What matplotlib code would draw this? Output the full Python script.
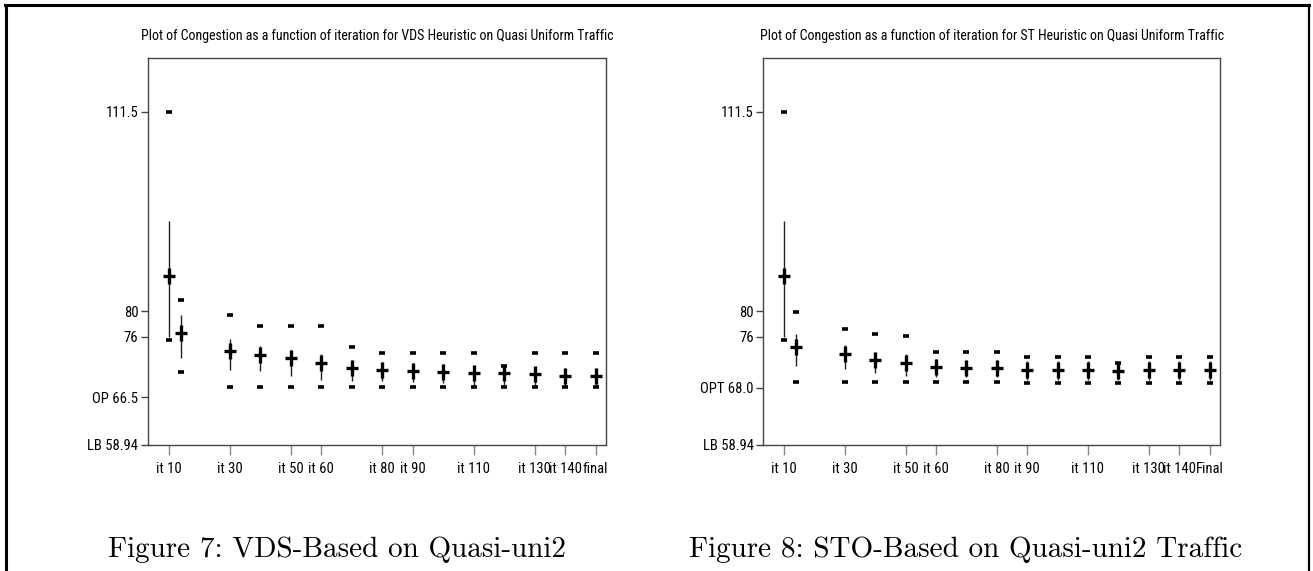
import matplotlib
matplotlib.use("Agg")
import matplotlib.pyplot as plt
from matplotlib.lines import Line2D
from matplotlib import font_manager

# Data
iters = [10, 14, 30, 40, 50, 60, 70, 80, 90, 100, 110, 120, 130, 140, 150]
xtick_pos = [10, 30, 50, 60, 80, 90, 110, 130, 140, 150]

vds_mean = [85.66, 76.67, 73.82, 73.19, 72.62, 71.88, 71.14, 70.78, 70.62, 70.46, 70.25, 70.25, 70.10, 69.88, 69.88]
vds_lo = [76.03, 72.62, 70.77, 70.62, 69.88, 69.20, 69.04, 68.99, 68.88, 68.77, 68.25, 68.30, 68.30, 68.20, 68.20]
vds_hi = [94.34, 79.46, 75.62, 74.61, 73.93, 73.35, 72.35, 72.09, 71.93, 71.77, 71.25, 71.40, 71.30, 71.10, 71.10]
vds_min = [75.46, 70.41, 68.05, 68.05, 68.05, 68.05, 68.05, 68.05, 68.05, 68.05, 68.05, 68.05, 68.05, 68.05, 68.05]
vds_max = [111.5, 81.83, 79.41, 77.72, 77.72, 77.72, 74.36, 73.41, 73.41, 73.41, 73.41, 71.40, 73.41, 73.41, 73.41]
vds_xlabels = ['it 10', 'it 30', 'it 50', 'it 60', 'it 80', 'it 90', 'it 110', 'it 130', 'it 140', 'final']
vds_yticks = [58.94, 66.5, 76, 80, 111.5]
vds_ylabels = ['LB 58.94', 'OP 66.5', '76', '80', '111.5']

st_mean = [85.66, 74.45, 73.35, 72.41, 71.88, 71.25, 71.09, 71.09, 70.78, 70.78, 70.78, 70.62, 70.78, 70.78, 70.78]
st_lo = [76.03, 71.46, 70.89, 70.25, 69.88, 69.72, 69.60, 69.60, 69.20, 69.20, 69.20, 69.20, 69.20, 69.20, 69.20]
st_hi = [94.34, 76.41, 74.72, 73.67, 73.25, 72.51, 72.40, 72.40, 72.20, 72.20, 72.20, 72.00, 72.20, 72.20, 72.20]
st_min = [75.46, 68.83, 68.83, 68.83, 68.83, 68.83, 68.83, 68.83, 68.67, 68.67, 68.67, 68.67, 68.67, 68.67, 68.67]
st_max = [111.5, 79.88, 77.20, 76.46, 76.14, 73.57, 73.57, 73.57, 72.78, 72.78, 72.78, 71.90, 72.78, 72.78, 72.78]
st_xlabels = ['it 10', 'it 30', 'it 50', 'it 60', 'it 80', 'it 90', 'it 110', 'it 130', 'it 140', 'Final']
st_yticks = [58.94, 68.0, 76, 80, 111.5]
st_ylabels = ['LB 58.94', 'OPT 68.0', '76', '80', '111.5']

# look for a narrow sans font (the original looks like Arial Narrow)
narrow_file = None
for pref in ['Liberation Sans Narrow', 'Roboto Condensed', 'Open Sans Condensed']:
    for f in font_manager.fontManager.ttflist:
        if f.name == pref and f.weight in (400, 'normal', 'regular') and f.style == 'normal':
            narrow_file = f.fname
            break
    if narrow_file:
        break
if narrow_file is None:
    for f in font_manager.fontManager.ttflist:
        if ('Condensed' in f.fname or 'Narrow' in f.fname) and 'Bold' not in f.fname \
                and 'Oblique' not in f.fname and 'Italic' not in f.fname and 'Light' not in f.fname:
            narrow_file = f.fname
            break

if narrow_file:
    def nfont(size):
        return font_manager.FontProperties(fname=narrow_file, size=size)
    title_size, tick_size = 10, 10.5
else:
    def nfont(size):
        return font_manager.FontProperties(family='Liberation Sans', size=size)
    title_size, tick_size = 8.5, 8.8

fig = plt.figure(figsize=(13.13, 5.71), dpi=100)


def panel(rect, title, mean, lo, hi, vmin, vmax, xlabels, yticks, ylabels):
    ax = fig.add_axes(rect)
    # spread line
    ax.vlines(iters, lo, hi, color='#222222', lw=1.0)
    # min / max dashes
    ax.plot(iters, vmin, ls='none', marker='_', ms=4.4, mew=2.6, color='black')
    ax.plot(iters, vmax, ls='none', marker='_', ms=4.4, mew=2.6, color='black')
    # mean cross
    ax.plot(iters, mean, ls='none', marker='_', ms=8, mew=2.4, color='black')
    ax.plot(iters, mean, ls='none', marker='|', ms=11.5, mew=2.4, color='black')

    ax.set_xlim(3.2, 153.4)
    ax.set_ylim(58.94, 120.0)
    ax.set_xticks(xtick_pos)
    ax.set_xticklabels(xlabels, fontproperties=nfont(tick_size))
    ax.set_yticks(yticks)
    ax.set_yticklabels(ylabels, fontproperties=nfont(tick_size))
    ax.tick_params(axis='x', length=7, width=1, color='#888888', pad=5)
    ax.tick_params(axis='y', length=5, width=1, color='#444444', pad=2)
    for s in ax.spines.values():
        s.set_color('#444444')
        s.set_linewidth(1.0)
    ax.set_title(title, fontproperties=nfont(title_size), pad=13)
    return ax


panel([0.1127, 0.2207, 0.3488, 0.6778],
      'Plot of Congestion as a function of iteration for VDS Heuristic on Quasi Uniform Traffic',
      vds_mean, vds_lo, vds_hi, vds_min, vds_max, vds_xlabels, vds_yticks, vds_ylabels)
panel([0.5813, 0.2207, 0.3478, 0.6778],
      'Plot of Congestion as a function of iteration for ST Heuristic on Quasi Uniform Traffic',
      st_mean, st_lo, st_hi, st_min, st_max, st_xlabels, st_yticks, st_ylabels)

# captions
W, H = 1313, 571
fig.text(337 / W, 1 - 557 / H, 'Figure 7: VDS-Based on Quasi-uni2',
         family='cmr10', fontsize=21, ha='center', va='baseline')
fig.text(966 / W, 1 - 557 / H, 'Figure 8: STO-Based on Quasi-uni2 Traffic',
         family='cmr10', fontsize=21, ha='center', va='baseline')

# outer page frame (top, left, right)
fig.add_artist(Line2D([5 / W, 1309 / W], [1 - 4.5 / H, 1 - 4.5 / H], color='black', lw=2.2))
fig.add_artist(Line2D([5.5 / W, 5.5 / W], [0, 1 - 4.5 / H], color='black', lw=2.2))
fig.add_artist(Line2D([1308.5 / W, 1308.5 / W], [0, 1 - 4.5 / H], color='black', lw=1.6))

fig.savefig('out.png', dpi=100)
